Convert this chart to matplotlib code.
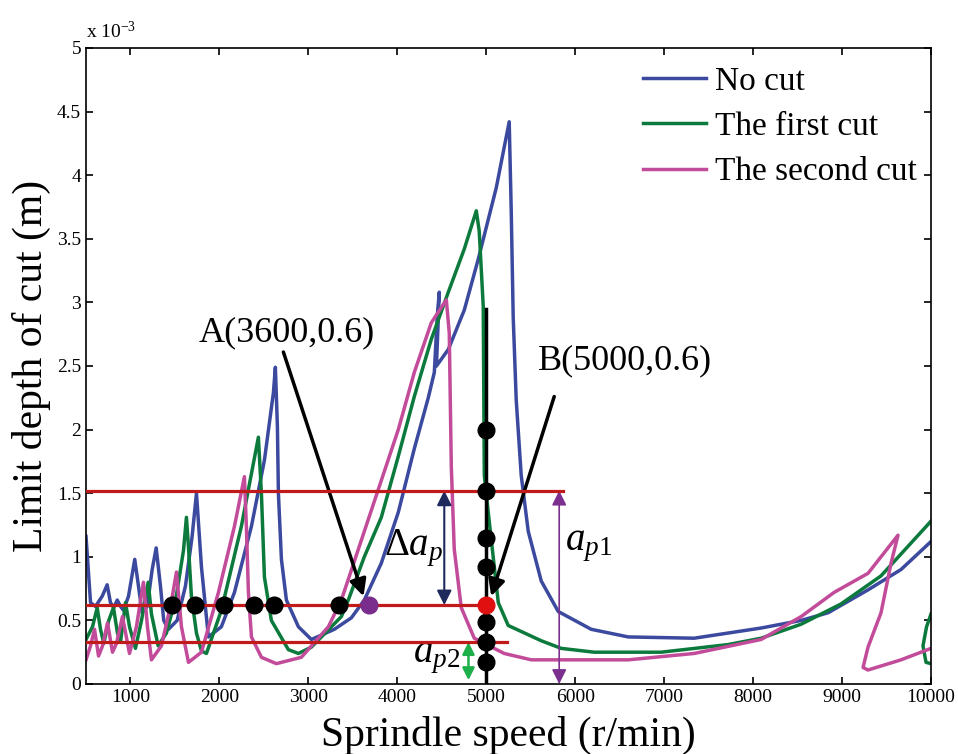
import numpy as np
import matplotlib
matplotlib.use("Agg")
import matplotlib.pyplot as plt

plt.rcParams['font.family'] = ['Liberation Serif', 'DejaVu Serif']
plt.rcParams['mathtext.fontset'] = 'custom'
plt.rcParams['mathtext.rm'] = 'Liberation Serif'
plt.rcParams['mathtext.it'] = 'Liberation Serif:italic'

# stability lobes, spindle speed (r/min) vs limit depth (x 1e-3 m)
blue_x = [500, 551, 607, 682, 738, 775, 812, 851, 888, 921, 978, 1048, 1090, 1131, 1188, 1244,
          1289, 1337, 1374, 1427, 1525, 1618, 1693, 1742, 1798, 1876, 2022, 2169, 2360, 2506,
          2607, 2629, 2652, 2663, 2697, 2753, 2888, 3034, 3292, 3483, 3629, 3820, 4011, 4191,
          4348, 4416, 4450, 4472, 4440, 4573, 4753, 4910, 5112, 5258, 5281, 5303, 5337, 5393,
          5472, 5618, 5809, 6180, 6596, 7337, 8090, 8540, 8843, 9292, 9663, 10000]
blue_y = [1.16, 0.64, 0.61, 0.69, 0.78, 0.64, 0.60, 0.66, 0.61, 0.58, 0.69, 0.98, 0.77, 0.56,
          0.61, 0.90, 1.07, 0.77, 0.50, 0.43, 0.50, 0.77, 1.16, 1.50, 0.92, 0.37, 0.45, 0.72,
          1.24, 1.76, 2.29, 2.49, 2.02, 1.50, 0.98, 0.66, 0.45, 0.35, 0.43, 0.52, 0.66, 0.95,
          1.35, 1.85, 2.25, 2.45, 2.90, 3.08, 2.50, 2.63, 2.94, 3.34, 3.90, 4.42, 3.71, 2.88,
          2.23, 1.64, 1.20, 0.81, 0.57, 0.43, 0.37, 0.36, 0.44, 0.50, 0.56, 0.74, 0.90, 1.12]

green_x = [500, 573, 626, 663, 700, 756, 809, 854, 888, 944, 989, 1056, 1124, 1199, 1236, 1311,
           1404, 1517, 1596, 1629, 1652, 1685, 1742, 1798, 1854, 2022, 2247, 2438, 2472, 2506,
           2584, 2775, 2888, 3034, 3371, 3449, 3629, 3820, 4011, 4191, 4382, 4573, 4753, 4888,
           4921, 4966, 4978, 5022, 5135, 5247, 5618, 5843, 6214, 6966, 7719, 8090, 8540, 8990,
           9438, 10000]
green_y = [0.35, 0.45, 0.60, 0.43, 0.32, 0.50, 0.60, 0.40, 0.33, 0.64, 0.45, 0.28, 0.50, 0.80,
           0.55, 0.30, 0.40, 0.70, 1.05, 1.31, 1.08, 0.69, 0.40, 0.26, 0.24, 0.58, 1.24, 1.94,
           1.50, 0.84, 0.50, 0.27, 0.24, 0.29, 0.53, 0.66, 1.00, 1.31, 1.79, 2.26, 2.71, 3.08,
           3.42, 3.72, 3.56, 2.97, 1.64, 1.35, 0.64, 0.46, 0.34, 0.28, 0.25, 0.25, 0.31, 0.36,
           0.47, 0.63, 0.85, 1.28]
# next lobe of the first cut entering at the right edge
green2_x = [10000, 9950, 9910, 9944, 10000]
green2_y = [0.55, 0.45, 0.30, 0.17, 0.16]

pink_x = [500, 551, 596, 641, 686, 742, 798, 843, 910, 989, 1067, 1146, 1191, 1236, 1348, 1461,
          1517, 1573, 1652, 1798, 1989, 2169, 2281, 2303, 2326, 2360, 2472, 2640, 2921, 3225,
          3371, 3629, 3820, 4011, 4191, 4382, 4551, 4584, 4607, 4640, 4719, 4865, 5202, 5506,
          6596, 7337, 8090, 8540, 8910, 9292, 9629, 9551, 9438, 9292, 9236, 9292, 9663, 10000]
pink_y = [0.19, 0.30, 0.43, 0.22, 0.30, 0.48, 0.25, 0.32, 0.53, 0.24, 0.45, 0.80, 0.45, 0.19,
          0.30, 0.65, 0.88, 0.45, 0.17, 0.25, 0.72, 1.24, 1.63, 1.24, 0.72, 0.37, 0.21, 0.16,
          0.21, 0.45, 0.66, 1.20, 1.60, 2.00, 2.45, 2.84, 3.02, 2.76, 1.71, 1.06, 0.60, 0.36,
          0.24, 0.19, 0.19, 0.24, 0.35, 0.53, 0.72, 0.87, 1.17, 0.95, 0.56, 0.29, 0.13, 0.11,
          0.19, 0.28]

# horizontal limit lines
red_levels = [1.52, 0.62, 0.33]
red_ends = [5865, 5000, 5236]

# points on the 0.6 line and on the 5000 r/min line
row_dots_x = [1472, 1730, 2056, 2393, 2618, 3348]
point_A = (3685, 0.62)
col_dots_y = [2.0, 1.52, 1.15, 0.92, 0.49, 0.33, 0.17]
point_B = (5000, 0.62)

c_blue = '#3b4a9e'
c_green = '#0b7a3c'
c_pink = '#c24b9a'
c_red = '#c01a1a'

fig = plt.figure(figsize=(9.58, 7.54), dpi=100)
ax = fig.add_axes([86/958, 70/754, 845/958, 636/754])

l1, = ax.plot(blue_x, blue_y, color=c_blue, lw=2.5, label='No cut')
l2, = ax.plot(green_x, green_y, color=c_green, lw=2.5, label='The first cut')
ax.plot(green2_x, green2_y, color=c_green, lw=2.5)
l3, = ax.plot(pink_x, pink_y, color=c_pink, lw=2.5, label='The second cut')

for lev, end in zip(red_levels, red_ends):
    ax.plot([500, end], [lev, lev], color=c_red, lw=2.3, zorder=4)

ax.plot([5000, 5000], [0, 2.95], color='black', lw=2.5, zorder=5)
ax.plot(row_dots_x, [0.62] * len(row_dots_x), 'o', color='black', ms=12, zorder=6)
ax.plot([5000] * len(col_dots_y), col_dots_y, 'o', color='black', ms=12, zorder=6)
ax.plot(*point_A, 'o', color='#7a2d8c', ms=12, zorder=6)
ax.plot(*point_B, 'o', color='#e01010', ms=12, zorder=6)

# annotations
ax.text(2760, 2.76, 'A(3600,0.6)', fontsize=26, ha='center', va='center')
ax.text(6560, 2.54, 'B(5000,0.6)', fontsize=26, ha='center', va='center')
ax.annotate('', xy=(3620, 0.69), xytext=(2719, 2.61),
            arrowprops=dict(arrowstyle='-|>', color='black', lw=2.5, mutation_scale=25,
                            shrinkA=0, shrinkB=0))
ax.annotate('', xy=(5056, 0.69), xytext=(5764, 2.26),
            arrowprops=dict(arrowstyle='-|>', color='black', lw=2.5, mutation_scale=25,
                            shrinkA=0, shrinkB=0))

ax.annotate('', xy=(4528, 0.62), xytext=(4528, 1.52),
            arrowprops=dict(arrowstyle='<|-|>', color='#1f2a5c', lw=1.5, mutation_scale=22,
                            shrinkA=0, shrinkB=0))
ax.annotate('', xy=(5820, 0.0), xytext=(5820, 1.52),
            arrowprops=dict(arrowstyle='<|-|>', color='#7b2f8e', lw=1.2, mutation_scale=22,
                            shrinkA=0, shrinkB=0))
ax.annotate('', xy=(4800, 0.03), xytext=(4800, 0.33),
            arrowprops=dict(arrowstyle='<|-|>', color='#1db04a', lw=1.8, mutation_scale=18,
                            shrinkA=0, shrinkB=0))
ax.text(4180, 1.07, r'$\Delta a_p$', fontsize=28, ha='center', va='center')
ax.text(6150, 1.09, r'$a_{p1}$', fontsize=28, ha='center', va='center')
ax.text(4440, 0.21, r'$a_{p2}$', fontsize=28, ha='center', va='center')

ax.set_xlim(500, 10000)
ax.set_ylim(0, 5)
ax.set_xticks(np.arange(1000, 10001, 1000))
ax.set_yticks(np.arange(0, 5.01, 0.5))
ax.set_yticklabels(['%g' % v for v in np.arange(0, 5.01, 0.5)])
ax.tick_params(direction='in', top=True, right=True, length=5, width=1.2, labelsize=14)
for s in ax.spines.values():
    s.set_linewidth(1.2)

# axis titles placed by hand, the x one sits right under the tick labels
fig.text(508/958, 1 - 746/754, 'Sprindle speed (r/min)', fontsize=30, ha='center',
         va='baseline')
ax.set_ylabel('Limit depth of cut (m)', fontsize=30, labelpad=4)
fig.text(86/958, 1 - 38/754, r'x 10$^{-3}$', fontsize=14, ha='left', va='baseline')

ax.legend(handles=[l1, l2, l3], loc='upper left', bbox_to_anchor=(643/958, 1 - 66/754),
          bbox_transform=fig.transFigure, frameon=False, fontsize=24, handlelength=1.9,
          handletextpad=0.25, labelspacing=0.45, borderpad=0, borderaxespad=0)

fig.savefig('out.png', dpi=100)
